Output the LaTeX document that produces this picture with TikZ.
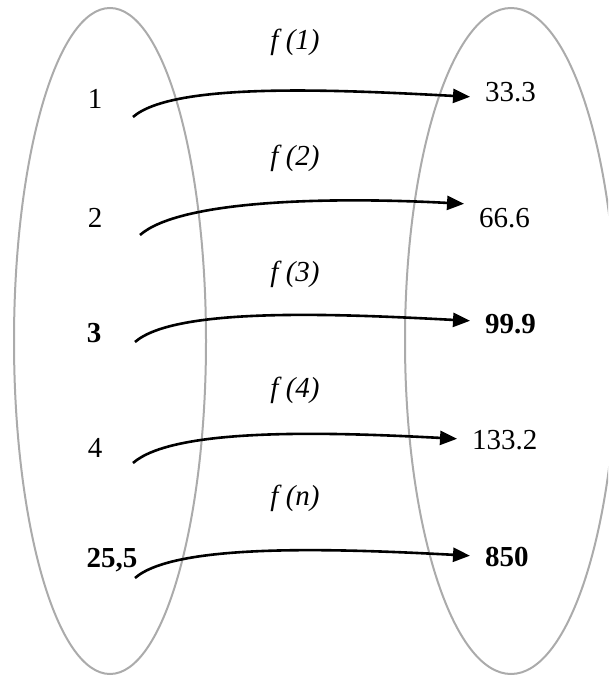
\documentclass[tikz,border=0pt]{standalone}
\usepackage{fontspec}
\setmainfont{Liberation Serif}
\usetikzlibrary{arrows.meta,positioning}

\begin{document}
\begin{tikzpicture}[
  x=1pt,y=-1pt,
  set/.style={draw=black!33,line width=2pt},
  val/.style={inner sep=0pt,font=\fontsize{29}{33}\selectfont},
  fun/.style={inner sep=0pt,font=\fontsize{29}{33}\selectfont\itshape},
  map/.style={line width=2.6pt,-{Triangle[length=17pt,width=14pt]},shorten >=15pt}
]
  \clip (0,0) rectangle (608,679);

  % the two sets
  \draw[set] (110,341) ellipse [x radius=96, y radius=333];
  \draw[set] (511,341) ellipse [x radius=106, y radius=333];

  % domain
  \node[val,anchor=base] (x1) at (95,109) {1};
  \node[val,anchor=base] (x2) at (95,227) {2};
  \node[val,anchor=base] (x3) at (94,342) {\textbf{3}};
  \node[val,anchor=base] (x4) at (95,457) {4};
  \node[val,anchor=base] (x5) at (112,567) {\textbf{25,5}};

  % images
  \node[val,anchor=base west] (y1) at (485,102) {33.3};
  \node[val,anchor=base west] (y2) at (479,227) {66.6};
  \node[val,anchor=base west] (y3) at (485,333) {\textbf{99.9}};
  \node[val,anchor=base west] (y4) at (472,449) {133.2};
  \node[val,anchor=base west] (y5) at (485,566) {\textbf{850}};

  % labels of the maps
  \node[fun,anchor=base] (f1) at (295,50) {f (1)};
  \node[fun,anchor=base] (f2) at (295,166) {f (2)};
  \node[fun,anchor=base] (f3) at (295,281) {f (3)};
  \node[fun,anchor=base] (f4) at (295,397) {f (4)};
  \node[fun,anchor=base] (fn) at (295,505) {f (n)};

  \coordinate (s1) at (133,117);
  \coordinate (s2) at (140,235);
  \coordinate (s3) at (135,342);
  \coordinate (s4) at (133,463);
  \coordinate (s5) at (135,578);

  \draw[map] (s1) .. controls +(40,-35) and +(-150,-8) .. ([yshift=-5pt]y1.west);
  \draw[map] (s2) .. controls +(40,-35) and +(-150,-8) .. ([yshift=13pt]y2.west);
  \draw[map] (s3) .. controls +(40,-35) and +(-150,-8) .. ([yshift=2pt]y3.west);
  \draw[map] (s4) .. controls +(40,-35) and +(-150,-8) .. (y4.west);
  \draw[map] (s5) .. controls +(40,-35) and +(-150,-8) .. (y5.west);
\end{tikzpicture}
\end{document}
